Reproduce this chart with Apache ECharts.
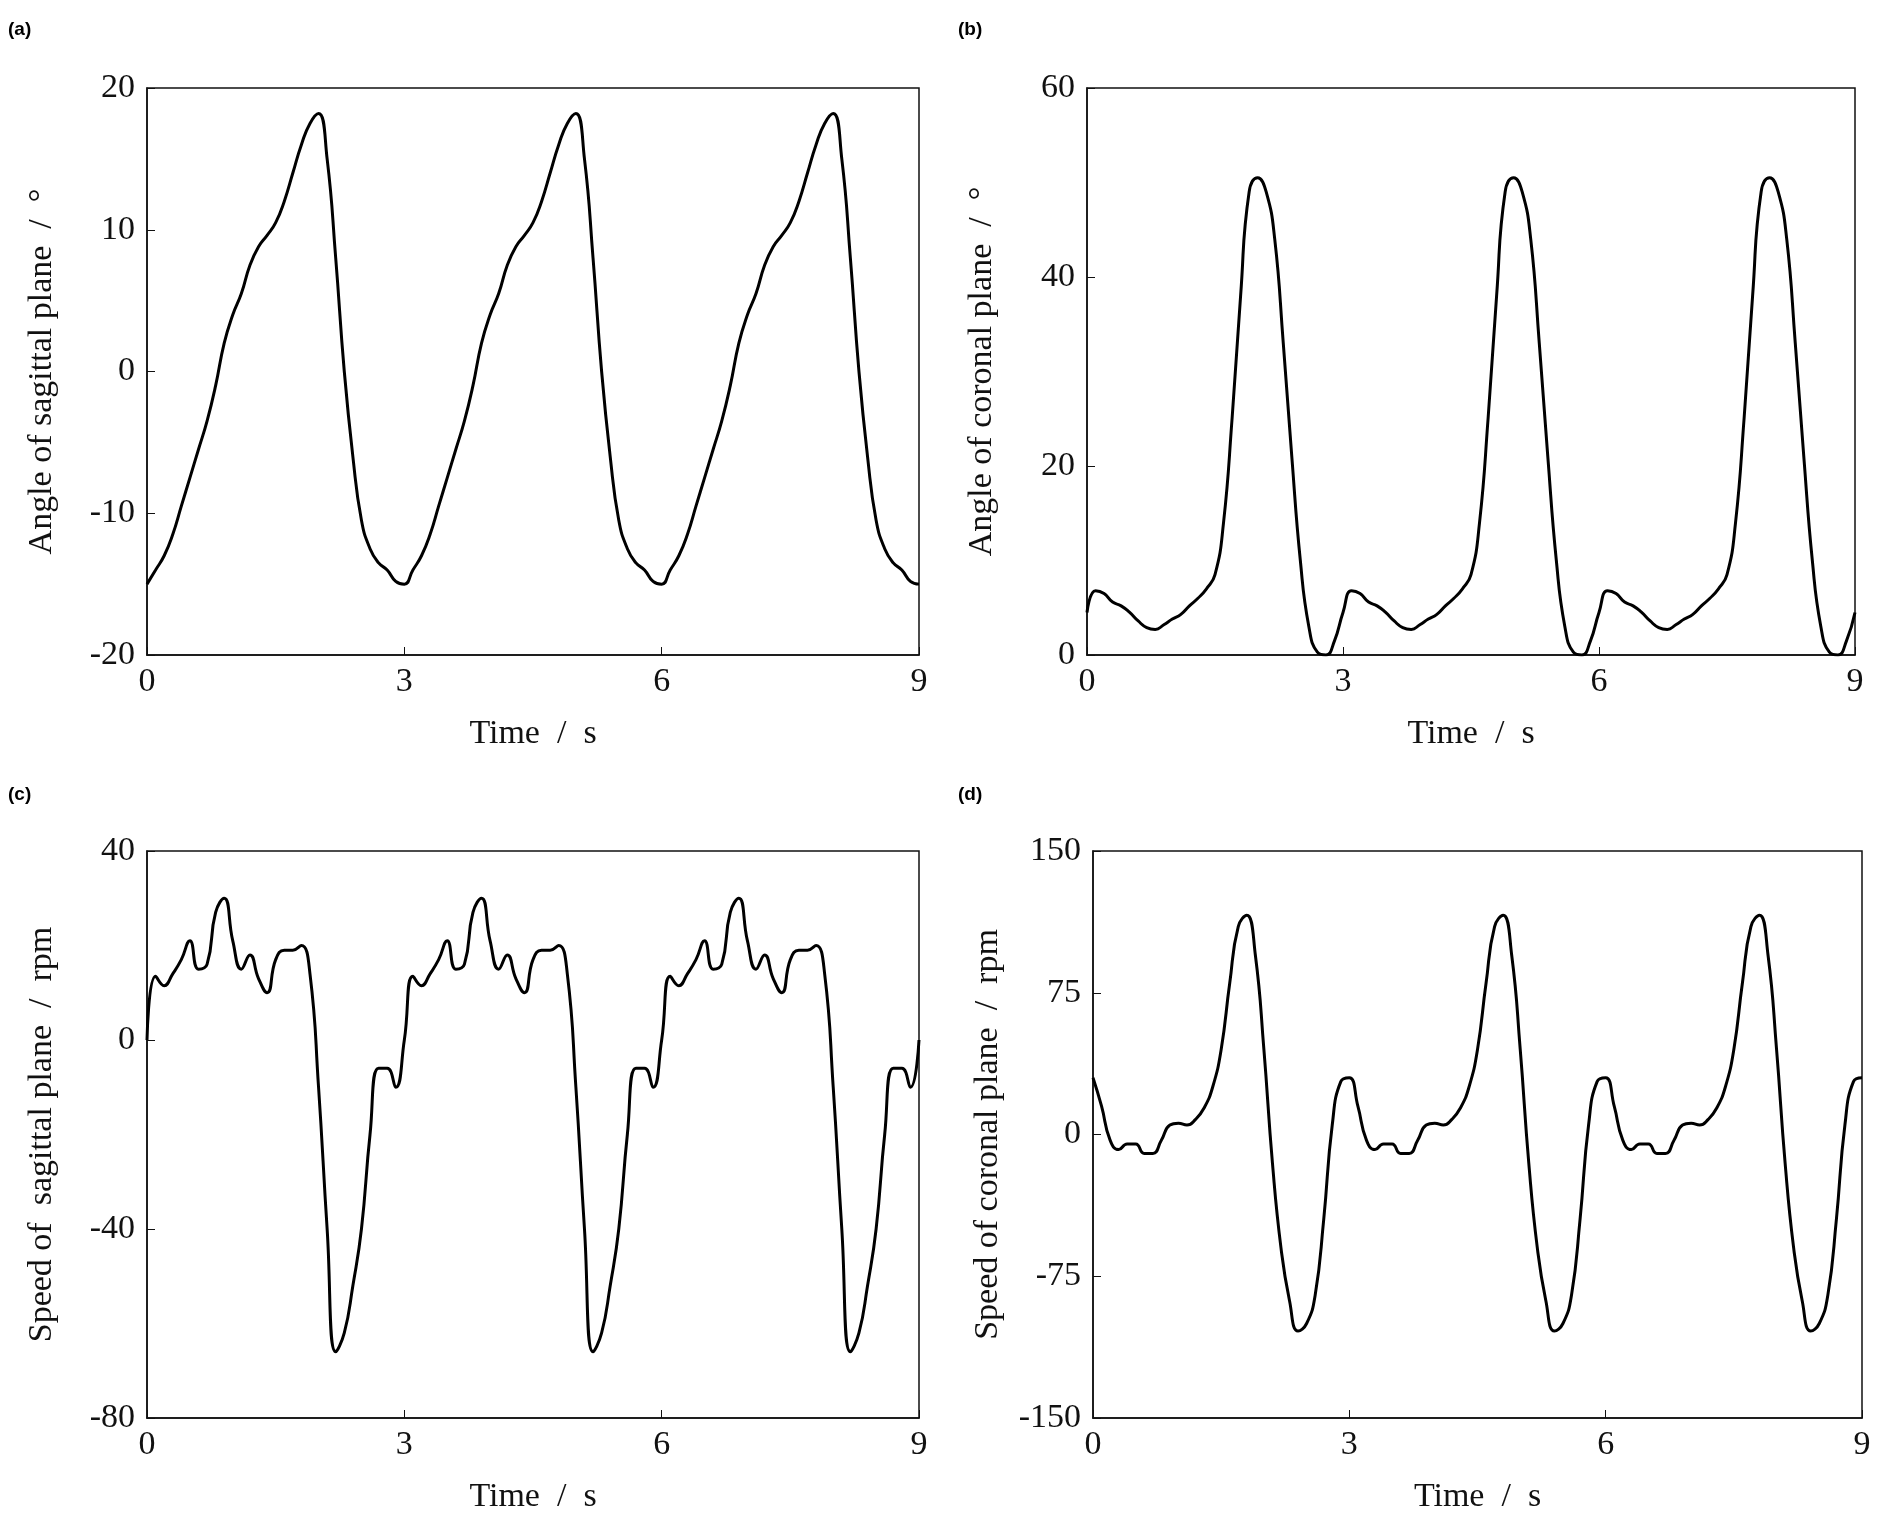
<!DOCTYPE html>
<html><head><meta charset="utf-8">
<script src="https://cdn.jsdelivr.net/npm/echarts@6/dist/echarts.min.js"></script>
<style>html,body{margin:0;padding:0;background:#fff}#c{width:1892px;height:1533px}</style>
</head><body><div id="c"></div>
<script>
const sagAngle = [-15,-14,-13,-11.5,-9.5,-7.5,-5.5,-3.5,-1,2,4,5.5,7.5,8.8,9.6,10.5,12,14,16,17.5,18.2,15,8,0,-6,-10.5,-12.5,-13.5,-14,-14.8,
 -15,-14,-13,-11.5,-9.5,-7.5,-5.5,-3.5,-1,2,4,5.5,7.5,8.8,9.6,10.5,12,14,16,17.5,18.2,15,8,0,-6,-10.5,-12.5,-13.5,-14,-14.8,
 -15,-14,-13,-11.5,-9.5,-7.5,-5.5,-3.5,-1,2,4,5.5,7.5,8.8,9.6,10.5,12,14,16,17.5,18.2,15,8,0,-6,-10.5,-12.5,-13.5,-14,-14.8,-15];
const corAngle = [4.5,6.8,6.5,5.6,5.2,4.5,3.6,2.9,2.7,3.2,3.8,4.3,5.2,6,7,8.5,14,25,38,49,50.5,49,44,33,21,10,3,0.3,0,1.5,
 4.5,6.8,6.5,5.6,5.2,4.5,3.6,2.9,2.7,3.2,3.8,4.3,5.2,6,7,8.5,14,25,38,49,50.5,49,44,33,21,10,3,0.3,0,1.5,
 4.5,6.8,6.5,5.6,5.2,4.5,3.6,2.9,2.7,3.2,3.8,4.3,5.2,6,7,8.5,14,25,38,49,50.5,49,44,33,21,10,3,0.3,0,1.5,4.5];
const sagSpeed = [0,13.5,11.5,14,17,21,15,16,27,30,21,15,18,13,10,17,19,19,20,14,-10,-40,-66,-62,-52,-40,-20,-6,-6,-10,
 0,13.5,11.5,14,17,21,15,16,27,30,21,15,18,13,10,17,19,19,20,14,-10,-40,-66,-62,-52,-40,-20,-6,-6,-10,
 0,13.5,11.5,14,17,21,15,16,27,30,21,15,18,13,10,17,19,19,20,14,-10,-40,-66,-62,-52,-40,-20,-6,-6,-10,0];
const corSpeed = [30,15,-3,-8,-5,-5,-10,-10,-3,5,6,5,8,14,25,45,80,110,116,95,45,-15,-60,-88,-104,-100,-85,-45,5,28,
 30,15,-3,-8,-5,-5,-10,-10,-3,5,6,5,8,14,25,45,80,110,116,95,45,-15,-60,-88,-104,-100,-85,-45,5,28,
 30,15,-3,-8,-5,-5,-10,-10,-3,5,6,5,8,14,25,45,80,110,116,95,45,-15,-60,-88,-104,-100,-85,-45,5,28,30];
const time = sagAngle.map((_, i) => +(i * 0.1).toFixed(1));

const F = 'Liberation Serif';
const grids = [
  {left:147, top:88, width:772, height:567},
  {left:1087, top:88, width:768, height:567},
  {left:147, top:851, width:772, height:567},
  {left:1093, top:851, width:769, height:567}
];
const ys = [
  {min:-20,max:20,interval:10,name:'Angle of sagittal plane  /  °',data:sagAngle},
  {min:0,max:60,interval:20,name:'Angle of coronal plane  /  °',data:corAngle},
  {min:-80,max:40,interval:40,name:'Speed of  sagittal plane  /  rpm',data:sagSpeed},
  {min:-150,max:150,interval:75,name:'Speed of coronal plane  /  rpm',data:corSpeed}
];
const labels = ['(a)','(b)','(c)','(d)'];
const labelPos = [[8,20],[958,20],[8,785],[958,785]];
const ax = {fontFamily:F,fontSize:34,color:'#111'};
const opt = {
  animation:false,
  grid: grids.map(g => Object.assign({show:true,borderColor:'#111',borderWidth:1.5,backgroundColor:'transparent'}, g)),
  xAxis: grids.map((g,i)=>({gridIndex:i,type:'value',min:0,max:9,interval:3,name:'Time  /  s',nameLocation:'middle',nameGap:62,
    nameTextStyle:ax,axisLabel:Object.assign({margin:10},ax),axisLine:{onZero:false,lineStyle:{color:'#111',width:1.5}},
    axisTick:{inside:true,length:8,lineStyle:{color:'#111'}},splitLine:{show:false}})),
  yAxis: ys.map((y,i)=>({gridIndex:i,type:'value',min:y.min,max:y.max,interval:y.interval,name:y.name,nameLocation:'middle',nameRotate:90,nameGap:88,
    nameTextStyle:ax,axisLabel:Object.assign({margin:12},ax),axisLine:{onZero:false,lineStyle:{color:'#111',width:1.5}},
    axisTick:{inside:true,length:8,lineStyle:{color:'#111'}},splitLine:{show:false}})),
  series: ys.map((y,i)=>({type:'line',xAxisIndex:i,yAxisIndex:i,smooth:0.5,showSymbol:false,
    lineStyle:{color:'#000',width:3},data:time.map((t,k)=>[t,y.data[k]])})),
  graphic: labels.map((l,i)=>({type:'text',left:labelPos[i][0],top:labelPos[i][1],
    style:{text:l,font:'bold 19px "Liberation Sans"',fill:'#000'}}))
};
echarts.init(document.getElementById('c')).setOption(opt);
</script></body></html>
